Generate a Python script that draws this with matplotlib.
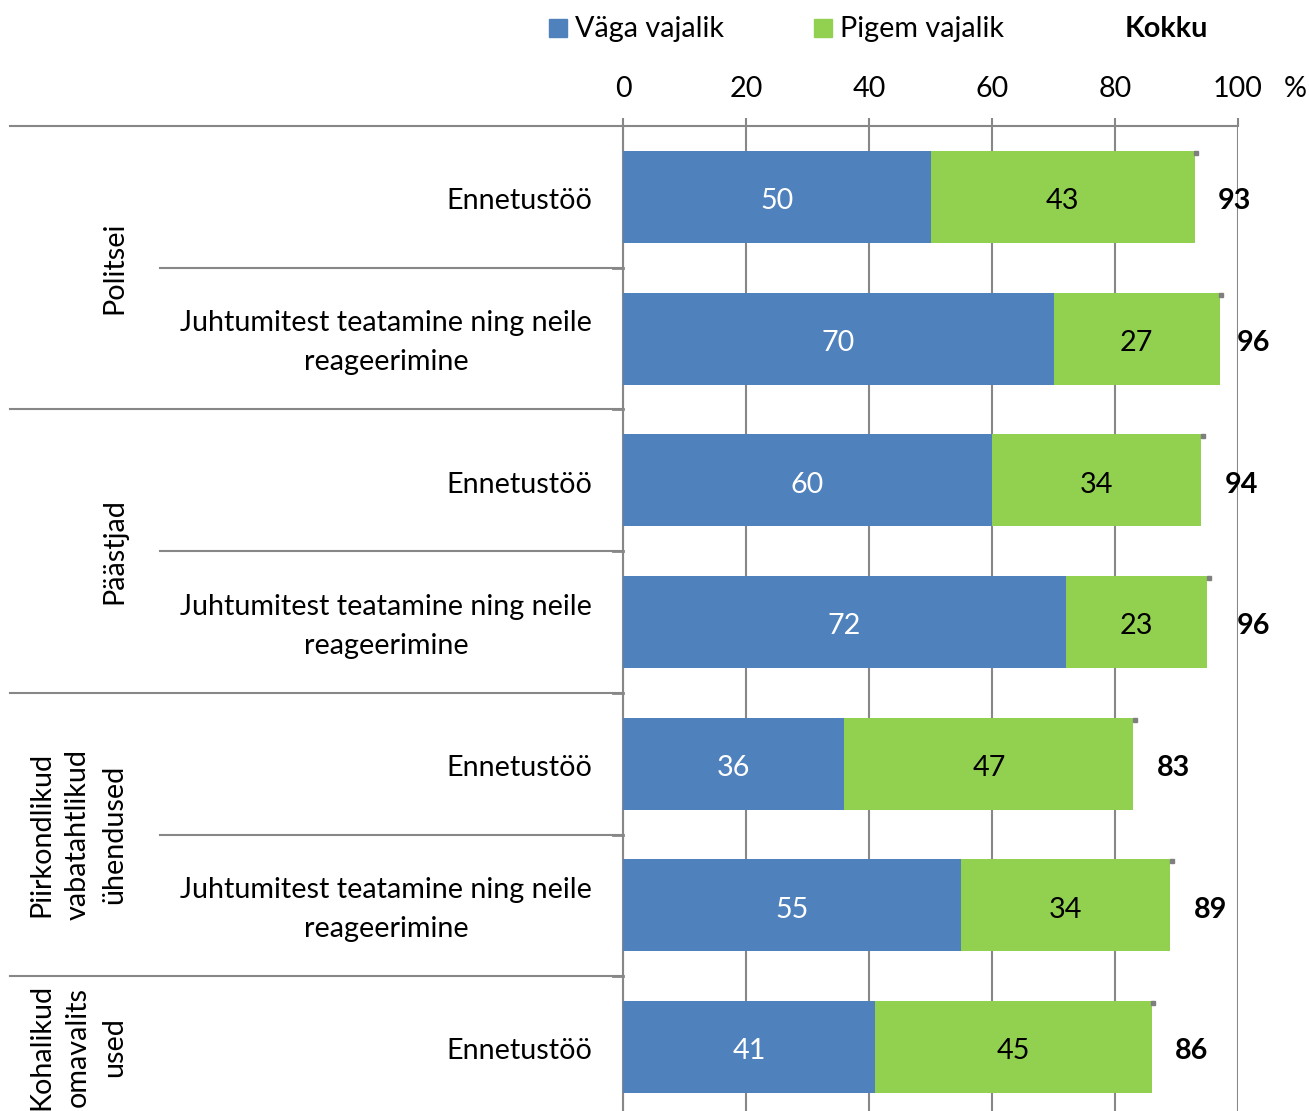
import matplotlib
matplotlib.use("Agg")
import matplotlib.pyplot as plt
from matplotlib.patches import Rectangle
from matplotlib.transforms import blended_transform_factory

plt.rcParams['font.family'] = ['Lato', 'DejaVu Sans']

categories = ["Ennetustöö",
              "Juhtumitest teatamine ning neile\nreageerimine",
              "Ennetustöö",
              "Juhtumitest teatamine ning neile\nreageerimine",
              "Ennetustöö",
              "Juhtumitest teatamine ning neile\nreageerimine",
              "Ennetustöö"]
groups = ["Politsei", "Päästjad", "Piirkondlikud\nvabatahtlikud\nühendused", "Kohalikud\nomavalits\nused"]
group_sizes = [2, 2, 2, 1]
vaga = [50, 70, 60, 72, 36, 55, 41]
pigem = [43, 27, 34, 23, 47, 34, 45]
kokku = [93, 96, 94, 96, 83, 89, 86]
xticks = [0, 20, 40, 60, 80, 100]
series_names = ["Väga vajalik", "Pigem vajalik", "Kokku"]

BLUE = "#4F81BD"
GREEN = "#92D050"
GRID = "#878787"
FS = 20.7
DY = 0.03  # small downward text offset

W, H = 1309, 1111
fig = plt.figure(figsize=(W / 100, H / 100), dpi=100)
left, right, top, bottom = 623, 1238, 126, 1118
ax = fig.add_axes([left / W, 1 - bottom / H, (right - left) / W, (bottom - top) / H])

n = len(categories)
ys = list(range(n))
bh = 0.65
ax.barh(ys, vaga, height=bh, color=BLUE, zorder=3)
ax.barh(ys, pigem, left=vaga, height=bh, color=GREEN, zorder=3)

for i in range(n):
    ax.text(vaga[i] / 2, i + DY, str(vaga[i]), ha='center', va='center', color='white', fontsize=FS, zorder=4)
    ax.text(vaga[i] + pigem[i] / 2, i + DY, str(pigem[i]), ha='center', va='center', color='black',
            fontsize=FS, zorder=4)
    ax.text(kokku[i] + 6.5, i + DY, str(kokku[i]), ha='center', va='center', color='black', fontsize=FS,
            fontweight='bold', zorder=4, clip_on=False)
    ax.plot([vaga[i] + pigem[i] + 0.25], [i - bh / 2 + 0.015], marker='s', markersize=2.5, color='#7f7f7f',
            zorder=5, clip_on=False, linestyle='none')

ax.set_xlim(0, 100)
ax.set_ylim(n - 0.5, -0.5)
ax.set_xticks(xticks)
ax.xaxis.tick_top()
ax.tick_params(axis='x', length=6, width=1.5, color=GRID, labelsize=FS, pad=11)
ax.set_yticks([])
ax.grid(axis='x', color=GRID, linewidth=1.5, zorder=0)
for s in ['right', 'bottom']:
    ax.spines[s].set_visible(False)
for s in ['top', 'left']:
    ax.spines[s].set_color(GRID)
    ax.spines[s].set_linewidth(1.5)

# percent sign
fig.text(1295 / W, 1 - 89 / H, "%", ha='center', va='center', fontsize=FS)

# category labels
tr = blended_transform_factory(fig.transFigure, ax.transData)
for i, c in enumerate(categories):
    ax.text(592 / W, i + DY, c, transform=tr, ha='right', va='center', multialignment='center',
            fontsize=FS, linespacing=1.62, clip_on=False)

# separator lines and group labels
start = 0
for g, size in zip(groups, group_sizes):
    y0 = start - 0.5
    ax.plot([10 / W, left / W], [y0, y0], transform=tr, color=GRID, linewidth=1.5, clip_on=False, zorder=2)
    for k in range(1, size):
        yk = start + k - 0.5
        ax.plot([160 / W, left / W], [yk, yk], transform=tr, color=GRID, linewidth=1.5, clip_on=False, zorder=2)
    yc = start + size / 2 - 0.5
    ax.text(127 / W, yc, g, transform=tr, rotation=90, ha='right', va='center', multialignment='center',
            fontsize=FS, linespacing=1.5, clip_on=False)
    start += size
for yk in [k - 0.5 for k in range(1, n)]:
    ax.plot([left / W - 10 / W, left / W], [yk, yk], transform=tr, color=GRID, linewidth=2, clip_on=False, zorder=2)

# legend
ly = 1 - 29 / H
fig.patches.append(Rectangle((549 / W, 1 - 37 / H), 18 / W, 18 / H, transform=fig.transFigure, color=BLUE))
fig.text(575 / W, ly, series_names[0], ha='left', va='center', fontsize=FS)
fig.patches.append(Rectangle((814 / W, 1 - 37 / H), 18 / W, 18 / H, transform=fig.transFigure, color=GREEN))
fig.text(840 / W, ly, series_names[1], ha='left', va='center', fontsize=FS)
fig.text(1166 / W, ly, series_names[2], ha='center', va='center', fontsize=FS, fontweight='bold')

fig.savefig("out.png", dpi=100)
